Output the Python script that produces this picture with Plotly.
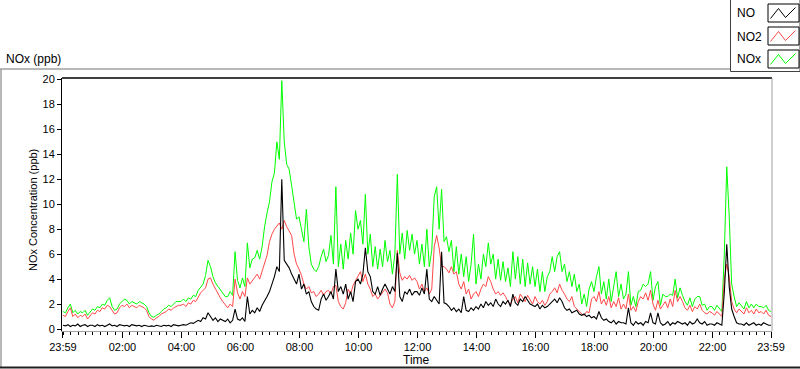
import pandas as pd
import plotly.graph_objects as go

# ---------------- data (5-minute readings, 23:59 -> 23:59) ----------------
START = "2023-01-01 23:59"

NO = [
    0.3, 0.25, 0.35, 0.2, 0.3, 0.25, 0.4, 0.2, 0.3, 0.35, 0.2, 0.3,      # 00h
    0.3, 0.2, 0.35, 0.25, 0.3, 0.2, 0.3, 0.4, 0.25, 0.3, 0.2, 0.35,      # 01h
    0.3, 0.25, 0.3, 0.2, 0.35, 0.3, 0.25, 0.3, 0.2, 0.3, 0.25, 0.2,      # 02h
    0.25, 0.2, 0.3, 0.25, 0.2, 0.3, 0.25, 0.3, 0.2, 0.35, 0.3, 0.25,     # 03h
    0.3, 0.35, 0.3, 0.4, 0.5, 0.45, 0.6, 0.7, 0.6, 0.9, 0.8, 1.3,        # 04h
    1.0, 0.7, 0.9, 0.6, 0.8, 0.7, 0.6, 0.8, 0.5, 0.7, 1.6, 0.8,          # 05h
    0.7, 0.9, 0.6, 2.6, 1.2, 1.5, 1.3, 1.7, 1.4, 1.9, 2.2, 2.6,          # 06h
    3.0, 3.6, 4.2, 5.0, 4.6, 12.0, 5.5, 5.2, 4.9, 4.4, 4.0, 3.6,         # 07h
    4.4, 3.2, 3.6, 2.8, 3.0, 2.2, 1.8, 1.6, 1.5, 2.4, 2.8, 2.3,          # 08h
    2.6, 3.0, 2.4, 4.8, 3.0, 3.4, 2.8, 3.6, 2.4, 3.0, 2.2, 3.8,          # 09h
    4.0, 3.6, 4.4, 6.5, 4.6, 4.2, 3.0, 2.8, 3.4, 2.7, 3.2, 3.6,          # 10h
    3.2, 2.8, 3.4, 3.0, 6.1, 2.6, 2.2, 3.0, 2.8, 3.2, 2.7, 3.0,          # 11h
    3.0, 2.7, 3.3, 2.8, 4.8, 2.4, 2.2, 2.6, 2.3, 2.0, 6.2, 2.1,          # 12h
    2.0, 1.8, 1.5, 1.7, 1.4, 1.6, 1.3, 2.6, 1.5, 1.4, 1.7, 1.5,          # 13h
    1.8, 1.6, 2.0, 1.7, 2.2, 1.9, 2.1, 1.8, 2.4, 2.0, 1.8, 2.2,          # 14h
    2.0, 2.3, 1.8, 2.8, 2.1, 1.9, 2.4, 2.2, 2.6, 2.3, 2.0, 1.9,          # 15h
    1.8, 2.0, 1.6, 1.9, 1.7, 1.8, 2.0, 2.2, 2.4, 2.1, 2.5, 2.2,          # 16h
    1.7, 1.5, 1.6, 1.3, 1.4, 1.5, 1.2, 1.1, 1.2, 1.0, 1.1, 0.9,          # 17h
    1.0, 0.8, 1.4, 0.9, 0.7, 0.8, 0.6, 0.5, 0.7, 0.4, 0.6, 0.5,          # 18h
    0.5, 0.4, 1.7, 0.5, 0.3, 0.6, 0.4, 0.5, 0.3, 0.6, 0.5, 1.3,          # 19h
    0.5, 0.4, 1.3, 0.5, 0.3, 0.4, 0.6, 0.3, 0.5, 0.4, 0.6, 0.5,          # 20h
    0.4, 0.5, 0.3, 0.6, 0.4, 0.5, 0.8, 0.5, 0.4, 0.6, 0.3, 0.4,          # 21h
    0.4, 0.3, 0.5, 0.4, 0.3, 2.9, 6.8, 3.4, 1.6, 1.0, 0.5, 0.4,          # 22h
    0.4, 0.3, 0.5, 0.3, 0.4, 0.5, 0.3, 0.4, 0.3, 0.5, 0.4, 0.3,          # 23h
    0.3,
]

NO2 = [
    1.1, 1.0, 1.4, 1.7, 1.0, 1.2, 0.9, 1.1, 1.0, 1.2, 0.8, 1.1,          # 00h
    1.3, 1.2, 1.5, 1.4, 1.7, 1.6, 1.9, 1.8, 1.5, 1.2, 1.3, 1.7,          # 01h
    1.9, 1.8, 2.0, 1.7, 1.9, 1.8, 1.7, 1.9, 1.8, 1.7, 1.5, 1.0,          # 02h
    0.8, 0.7, 0.9, 1.0, 1.2, 1.3, 1.4, 1.6, 1.5, 1.7, 1.8, 1.9,          # 03h
    1.9, 2.0, 1.8, 2.1, 2.0, 2.3, 2.2, 2.6, 2.9, 3.1, 3.3, 4.0,          # 04h
    4.1, 3.6, 3.2, 2.8, 2.5, 2.2, 1.9, 1.7, 2.0, 1.8, 4.0, 2.9,          # 05h
    2.4, 3.0, 2.6, 4.1, 3.6, 3.9, 4.2, 4.4, 4.0, 4.6, 5.3, 5.9,          # 06h
    7.0, 7.6, 8.0, 8.3, 8.5, 8.0, 8.7, 8.2, 7.9, 7.5, 6.0, 5.2,          # 07h
    4.8, 4.3, 3.6, 3.2, 3.4, 2.9, 3.0, 2.6, 2.8, 3.1, 2.7, 3.0,          # 08h
    3.1, 2.8, 3.4, 3.5, 2.2, 1.8, 1.6, 2.1, 3.2, 2.8, 3.5, 3.9,          # 09h
    4.2, 4.6, 3.8, 4.4, 3.6, 3.2, 2.6, 2.8, 2.4, 2.7, 2.9, 3.2,          # 10h
    2.9, 2.0, 1.7, 2.2, 6.3, 4.5, 3.9, 4.2, 4.0, 4.3, 3.9, 4.1,          # 11h
    3.8, 3.2, 3.6, 3.0, 3.3, 2.8, 3.2, 6.6, 7.5, 6.5, 5.0, 5.0,          # 12h
    4.8, 4.5, 5.0, 4.4, 4.6, 3.6, 3.2, 3.8, 2.8, 3.2, 2.4, 2.8,          # 13h
    3.0, 2.6, 3.2, 3.6, 3.4, 4.2, 3.8, 3.2, 2.8, 3.0, 2.7, 2.9,          # 14h
    2.6, 2.2, 2.0, 2.4, 2.6, 2.1, 2.8, 2.5, 2.2, 2.7, 2.4, 2.0,          # 15h
    2.6, 2.2, 2.0, 2.3, 1.9, 2.2, 2.8, 3.0, 3.3, 2.9, 3.6, 3.1,          # 16h
    2.8, 2.4, 2.2, 2.6, 1.8, 1.6, 1.4, 1.2, 1.1, 1.4, 1.3, 2.4,          # 17h
    2.6, 2.2, 3.0, 2.0, 2.4, 1.9, 2.6, 1.7, 2.2, 1.8, 2.5, 1.6,          # 18h
    2.0, 1.6, 2.8, 1.5, 1.8, 1.4, 2.2, 2.6, 2.4, 2.9, 2.3, 3.1,          # 19h
    2.0, 1.5, 2.3, 1.6, 1.9, 2.2, 1.7, 2.4, 1.8, 3.1, 2.2, 2.6,          # 20h
    2.2, 1.7, 1.5, 1.9, 1.4, 1.8, 1.6, 2.0, 1.5, 1.3, 1.2, 1.4,          # 21h
    1.3, 1.1, 1.4, 1.2, 1.0, 4.0, 5.2, 4.2, 2.2, 1.6, 1.3, 1.6,          # 22h
    1.4, 1.2, 1.7, 1.3, 1.5, 1.2, 1.6, 1.3, 1.4, 1.2, 1.5, 1.1,          # 23h
    1.0,
]

NOX = [
    1.4, 1.3, 1.7, 2.0, 1.3, 1.5, 1.2, 1.4, 1.3, 1.5, 1.1, 1.4,          # 00h
    1.6, 1.5, 1.8, 1.7, 2.0, 1.9, 2.3, 2.5, 1.8, 1.5, 1.6, 2.0,          # 01h
    2.2, 2.4, 2.3, 2.0, 2.2, 2.1, 2.0, 2.2, 2.1, 2.0, 1.8, 1.3,          # 02h
    1.0, 0.95, 1.1, 1.2, 1.4, 1.6, 1.7, 1.9, 1.8, 2.0, 2.2, 2.2,         # 03h
    2.2, 2.4, 2.2, 2.5, 2.4, 2.7, 2.6, 3.1, 3.4, 3.6, 4.3, 5.5,          # 04h
    5.0, 4.2, 3.7, 3.4, 3.2, 2.8, 2.6, 2.6, 3.0, 2.7, 6.2, 3.9,          # 05h
    3.3, 4.1, 3.4, 6.9, 4.9, 5.6, 5.7, 6.3, 5.6, 6.6, 8.2, 9.3,          # 06h
    10.2, 11.8, 12.5, 15.0, 13.6, 19.9, 15.0, 13.2, 12.8, 11.5, 10.0, 8.8,  # 07h
    9.0, 8.0, 7.0, 9.6, 6.6, 5.2, 4.8, 4.6, 5.0, 5.8, 6.4, 5.4,          # 08h
    5.9, 7.5, 5.2, 11.4, 5.0, 6.8, 4.8, 7.1, 5.6, 7.7, 6.0, 9.5,         # 09h
    8.0, 8.7, 6.8, 10.8, 6.0, 7.6, 5.0, 6.6, 4.8, 6.4, 5.0, 7.1,         # 10h
    5.4, 6.3, 4.4, 6.0, 12.4, 6.0, 7.7, 5.6, 7.9, 6.3, 7.6, 6.0,         # 11h
    7.1, 5.2, 6.8, 5.0, 8.0, 5.0, 6.3, 10.6, 11.4, 8.0, 11.2, 7.0,       # 12h
    7.4, 6.2, 7.1, 4.6, 6.6, 4.4, 6.0, 4.2, 5.8, 3.8, 5.2, 7.6,          # 13h
    3.6, 5.2, 4.0, 6.0, 5.0, 6.9, 5.2, 6.0, 4.0, 5.6, 3.9, 5.4,          # 14h
    3.8, 4.9, 3.4, 6.2, 4.0, 5.8, 3.6, 5.6, 3.4, 5.3, 3.6, 5.0,          # 15h
    3.4, 4.8, 3.0, 4.6, 3.0, 4.2, 4.6, 5.8, 4.6, 5.8, 6.2, 4.6,          # 16h
    5.2, 3.8, 4.6, 3.4, 4.4, 3.0, 3.6, 2.0, 2.8, 1.8, 3.2, 3.8,          # 17h
    3.0, 4.2, 5.0, 2.8, 3.8, 2.4, 4.0, 2.2, 3.4, 4.6, 2.6, 3.6,          # 18h
    2.4, 2.8, 4.6, 1.9, 2.6, 1.8, 3.0, 3.1, 3.6, 3.4, 3.6, 4.6,          # 19h
    2.3, 3.4, 3.8, 1.9, 2.8, 2.6, 2.6, 2.8, 2.7, 4.0, 2.5, 3.3,          # 20h
    2.7, 2.2, 1.9, 2.5, 1.8, 2.4, 2.6, 2.6, 1.9, 2.0, 1.5, 1.8,          # 21h
    1.8, 1.5, 1.9, 1.6, 1.4, 6.0, 13.0, 9.0, 3.6, 2.6, 1.8, 2.1,         # 22h
    1.8, 1.6, 2.2, 1.7, 2.0, 1.7, 2.0, 1.8, 1.8, 1.7, 1.9, 1.5,          # 23h
    1.4,
]

TICK_TIMES = ["2023-01-01 23:59", "2023-01-02 02:00", "2023-01-02 04:00",
              "2023-01-02 06:00", "2023-01-02 08:00", "2023-01-02 10:00",
              "2023-01-02 12:00", "2023-01-02 14:00", "2023-01-02 16:00",
              "2023-01-02 18:00", "2023-01-02 20:00", "2023-01-02 22:00",
              "2023-01-02 23:59"]
TICK_LABELS = ["23:59", "02:00", "04:00", "06:00", "08:00", "10:00", "12:00",
               "14:00", "16:00", "18:00", "20:00", "22:00", "23:59"]
Y_TICKS = list(range(0, 21, 2))

SERIES = [("NOx", NOX, "#00FF00"), ("NO2", NO2, "#FF4848"), ("NO", NO, "#000000")]

# ---------------- figure ----------------
times = pd.date_range(START, periods=len(NO), freq="5min")

W, H = 800, 369
L, R, T, B = 62, 772, 78, 331


def px(x):
    return (x - L) / (R - L)


def py(y):
    return (B - y) / (B - T)


fig = go.Figure()
for name, vals, col in SERIES:
    fig.add_trace(go.Scatter(x=times, y=vals, mode="lines", name=name,
                             line=dict(color=col, width=1.1 if name == "NO" else 1)))

FONT = "Liberation Sans"
fig.update_layout(
    width=W, height=H,
    margin=dict(l=L, r=W - R, t=T, b=H - B, pad=0),
    paper_bgcolor="white", plot_bgcolor="white",
    showlegend=False,
    font=dict(family=FONT, size=11, color="black"),
)

fig.update_xaxes(
    type="date",
    range=["2023-01-01 23:57", "2023-01-03 00:01"],
    tickmode="array", tickvals=TICK_TIMES, ticktext=TICK_LABELS,
    ticks="outside", ticklen=6, tickcolor="black", tickwidth=1,
    tickfont=dict(family=FONT, size=11, color="black"),
    showline=True, linecolor="#A0A0A0", linewidth=1,
    showgrid=False, zeroline=False,
    minor=dict(ticks="outside", ticklen=3, tickcolor="black",
               tick0="2023-01-02 00:00", dtick=15 * 60 * 1000, showgrid=False),
)
fig.update_yaxes(
    range=[-0.16, 20.12],
    tickmode="array", tickvals=Y_TICKS,
    ticks="outside", ticklen=4, tickcolor="black",
    tickfont=dict(family=FONT, size=11, color="black"),
    showline=True, linecolor="black", linewidth=1,
    showgrid=False, zeroline=False,
)

shapes = []
# plot-area border (top black, right gray)
shapes.append(dict(type="line", xref="paper", yref="paper", x0=0, x1=1, y0=1, y1=1,
                   line=dict(color="black", width=1.5)))
shapes.append(dict(type="line", xref="paper", yref="paper", x0=1, x1=1, y0=0, y1=1,
                   line=dict(color="#A0A0A0", width=1)))
# outer panel frame
shapes.append(dict(type="line", xref="paper", yref="paper", x0=px(0), x1=px(730),
                   y0=py(69), y1=py(69), line=dict(color="#A0A0A0", width=1.5)))
shapes.append(dict(type="line", xref="paper", yref="paper", x0=px(1), x1=px(1),
                   y0=py(69), y1=py(368), line=dict(color="#A0A0A0", width=1.5)))
shapes.append(dict(type="line", xref="paper", yref="paper", x0=px(0), x1=px(800),
                   y0=py(367.5), y1=py(367.5), line=dict(color="#202020", width=2)))
# legend box
shapes.append(dict(type="rect", xref="paper", yref="paper", x0=px(730.5), x1=px(800),
                   y0=py(71.5), y1=py(-1), line=dict(color="#404040", width=1),
                   fillcolor="white"))

annotations = []
legend_items = [("NO", "#000000", 4), ("NO2", "#FF4848", 27), ("NOx", "#00FF00", 50)]
for label, col, top in legend_items:
    shapes.append(dict(type="rect", xref="paper", yref="paper", x0=px(768), x1=px(799),
                       y0=py(top + 18), y1=py(top), line=dict(color="black", width=1),
                       fillcolor="white"))
    pts = [(770.5, top + 14.5), (778.5, top + 4.5), (785.5, top + 13.5), (795.5, top + 3.5)]
    path = "M " + " L ".join(f"{px(a):.5f},{py(b):.5f}" for a, b in pts)
    shapes.append(dict(type="path", xref="paper", yref="paper", path=path,
                       line=dict(color=col, width=1)))
    annotations.append(dict(text=label, xref="paper", yref="paper", x=px(735),
                            y=py(top + 9.5), xanchor="left", yanchor="middle",
                            showarrow=False, font=dict(family=FONT, size=12, color="black")))

annotations.append(dict(text="NOx (ppb)", xref="paper", yref="paper", x=px(4), y=py(59),
                        xanchor="left", yanchor="middle", showarrow=False,
                        font=dict(family=FONT, size=12, color="black")))
annotations.append(dict(text="NOx Concentration (ppb)", xref="paper", yref="paper",
                        x=px(33), y=py(210), xanchor="center", yanchor="middle",
                        textangle=-90, showarrow=False,
                        font=dict(family=FONT, size=11, color="black")))
annotations.append(dict(text="Time", xref="paper", yref="paper", x=px(416), y=py(360),
                        xanchor="center", yanchor="middle", showarrow=False,
                        font=dict(family=FONT, size=12, color="black")))

fig.update_layout(shapes=shapes, annotations=annotations)

fig.write_html("out.html",
               config={"displayModeBar": False},
               post_script="document.body.style.margin='0px';"
                           "document.body.style.overflow='hidden';")
